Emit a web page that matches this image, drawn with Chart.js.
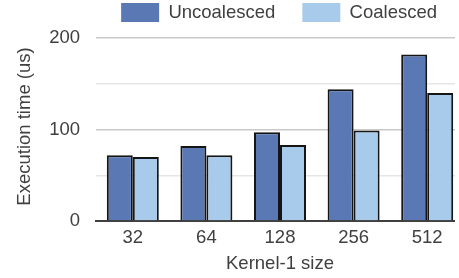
<!DOCTYPE html>
<html>
<head>
<meta charset="utf-8">
<script src="https://cdn.jsdelivr.net/npm/chart.js@4/dist/chart.umd.min.js"></script>
<style>
    html, body { margin: 0; padding: 0; background: #fff; }
    #wrap { width: 455px; height: 278px; overflow: hidden; }
    canvas { display: block; }
</style>
</head>
<body>
<div id="wrap"><canvas id="chart" width="466" height="278"></canvas></div>
<script>
const kernelSizes = ['32', '64', '128', '256', '512'];
const uncoalesced = [72, 82, 97, 144, 182];
const coalesced = [70, 72, 83, 99, 140];
const yTicks = [0, 50, 100, 150, 200];

const textColor = '#404040';
const fontFamily = '"Liberation Sans", Arial, sans-serif';

const ctx = document.getElementById('chart').getContext('2d');

new Chart(ctx, {
    type: 'bar',
    data: {
        labels: kernelSizes,
        datasets: [{
            label: 'Uncoalesced',
            data: uncoalesced,
            backgroundColor: '#5a79b4',
            borderColor: '#151515',
            borderWidth: 2,
        }, {
            label: 'Coalesced',
            data: coalesced,
            backgroundColor: '#a8cbeb',
            borderColor: '#151515',
            borderWidth: 2,
        }]
    },
    options: {
        responsive: false,
        animation: false,
        devicePixelRatio: 1,
        layout: {
            padding: { top: -24, right: 2, bottom: 0, left: 0 }
        },
        datasets: {
            bar: {
                categoryPercentage: 0.7065,
                barPercentage: 1.0,
            }
        },
        plugins: {
            legend: {
                display: true,
                position: 'top',
                align: 'end',
                labels: {
                    color: textColor,
                    font: { family: fontFamily, size: 18.5 },
                    boxWidth: 38,
                    boxHeight: 19,
                    padding: 27,
                    generateLabels: chart => chart.data.datasets.map((ds, i) => ({
                        text: ds.label,
                        fillStyle: ds.backgroundColor,
                        strokeStyle: ds.backgroundColor,
                        lineWidth: 0,
                        fontColor: textColor,
                        datasetIndex: i,
                    }))
                }
            },
            tooltip: { enabled: false }
        },
        scales: {
            x: {
                afterFit: scale => { scale.height = 57; },
                grid: { display: false, drawTicks: false },
                border: { display: true, color: textColor, width: 2 },
                ticks: {
                    color: textColor,
                    font: { family: fontFamily, size: 18.5 },
                    padding: 6,
                    maxRotation: 0,
                },
                title: {
                    display: true,
                    text: 'Kernel-1 size',
                    color: textColor,
                    font: { family: fontFamily, size: 18.5 },
                    padding: { top: 0, bottom: 3 },
                }
            },
            y: {
                min: 0,
                max: 206.6,
                afterFit: scale => { scale.width = 96; },
                afterBuildTicks: scale => {
                    scale.ticks = yTicks.map(v => ({ value: v }));
                },
                border: { display: false },
                grid: {
                    drawTicks: false,
                    lineWidth: 1.5,
                    color: c => {
                        const v = c.tick ? c.tick.value : 0;
                        if (v === 0) return 'rgba(0,0,0,0)';
                        return v % 100 === 0 ? '#c9c9c9' : '#e6e6e6';
                    }
                },
                ticks: {
                    color: textColor,
                    font: { family: fontFamily, size: 18.5 },
                    padding: 16,
                    callback: v => (v % 100 === 0 ? String(v) : ''),
                },
                title: {
                    display: true,
                    text: 'Execution time (us)',
                    color: textColor,
                    font: { family: fontFamily, size: 18.5 },
                    padding: { top: 14, bottom: 0 },
                }
            }
        }
    }
});
</script>
</body>
</html>
